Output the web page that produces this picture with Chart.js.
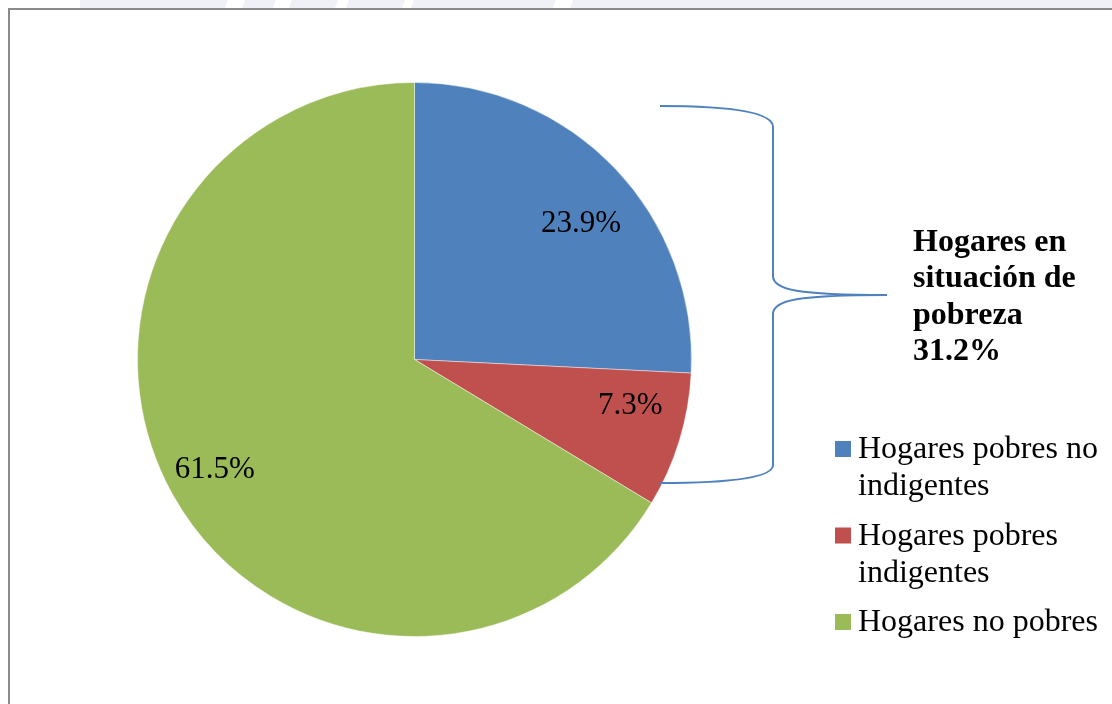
<!DOCTYPE html>
<html>
<head>
<meta charset="utf-8">
<script src="https://cdn.jsdelivr.net/npm/chart.js@4.4.1/dist/chart.umd.min.js"></script>
<style>
  html, body { margin: 0; padding: 0; background: #fff; }
  canvas { display: block; }
</style>
</head>
<body>
<canvas id="povertyChart" width="1112" height="704"></canvas>
<script>
// --- Datos ---
const categories = ['Hogares pobres no indigentes', 'Hogares pobres indigentes', 'Hogares no pobres'];
const shares = [23.9, 7.3, 61.5];
const sliceColors = ['#4f81bd', '#c0504d', '#9bbb59'];
const bracketTitle = 'Hogares en situación de pobreza';
const bracketSlices = [0, 1];

// ajuste fino de las etiquetas (grados, fracción del radio)
const labelAngleShift = [4, -5.5, 1];
const labelRadius = [0.78, 0.795, 0.82];

const serif = '"Liberation Serif", "Times New Roman", serif';

function wrapText(ctx, text, maxWidth) {
    const words = text.split(' ');
    const lines = [];
    let line = '';
    words.forEach(w => {
        const test = line ? line + ' ' + w : w;
        if (line && ctx.measureText(test).width > maxWidth) {
            lines.push(line);
            line = w;
        } else {
            line = test;
        }
    });
    if (line) lines.push(line);
    return lines;
}

// marco y franja superior
const framePlugin = {
    id: 'frame',
    beforeDraw(chart) {
        const c = chart.ctx;
        c.save();
        c.fillStyle = '#fff';
        c.fillRect(0, 0, chart.width, chart.height);
        c.fillStyle = '#eff1f6';
        c.fillRect(80, 0, chart.width - 80, 8);
        c.fillStyle = '#fff';
        [[225, 242], [273, 289], [335, 346], [402, 411], [553, 570]].forEach(p => {
            c.beginPath();
            c.moveTo(p[0] + 3, 0);
            c.lineTo(p[1] + 3, 0);
            c.lineTo(p[1], 8);
            c.lineTo(p[0], 8);
            c.fill();
        });
        c.strokeStyle = '#8a8a8a';
        c.lineWidth = 2;
        c.beginPath();
        c.moveTo(9, chart.height + 5);
        c.lineTo(9, 9);
        c.lineTo(chart.width + 5, 9);
        c.stroke();
        c.restore();
    }
};

// etiquetas de porcentaje
const sliceLabels = {
    id: 'sliceLabels',
    afterDatasetsDraw(chart) {
        const c = chart.ctx;
        const meta = chart.getDatasetMeta(0);
        c.save();
        c.font = '31px ' + serif;
        c.fillStyle = '#000';
        c.textAlign = 'center';
        c.textBaseline = 'middle';
        meta.data.forEach((arc, i) => {
            const p = arc.getProps(['x', 'y', 'startAngle', 'endAngle', 'outerRadius'], true);
            const mid = (p.startAngle + p.endAngle) / 2 + labelAngleShift[i] * Math.PI / 180;
            const r = p.outerRadius * labelRadius[i];
            c.fillText(shares[i].toFixed(1) + '%', p.x + Math.cos(mid) * r, p.y + Math.sin(mid) * r + 2);
        });
        c.restore();
    }
};

// llave, texto en negrita y leyenda
const sideNotes = {
    id: 'sideNotes',
    afterDraw(chart) {
        const c = chart.ctx;
        c.save();

        const L = 660, S = 773, T = 887, top = 106, mid = 295, bot = 483;
        c.strokeStyle = '#4f81bd';
        c.lineWidth = 2;
        c.beginPath();
        c.moveTo(L, top);
        c.bezierCurveTo(730, top, S, top + 6, S, top + 21);
        c.lineTo(S, mid - 19);
        c.bezierCurveTo(S, mid - 5, S + 25, mid, T, mid);
        c.moveTo(T, mid);
        c.bezierCurveTo(S + 25, mid, S, mid + 5, S, mid + 19);
        c.lineTo(S, bot - 18);
        c.bezierCurveTo(S, bot - 5, 730, bot, L, bot);
        c.stroke();

        const total = bracketSlices.reduce((s, i) => s + shares[i], 0);
        c.font = 'bold 32px ' + serif;
        c.fillStyle = '#000';
        c.textAlign = 'left';
        c.textBaseline = 'alphabetic';
        const boldLines = wrapText(c, bracketTitle + ' ' + total.toFixed(1) + '%', 190);
        boldLines.forEach((ln, k) => c.fillText(ln, 913, 251 + k * 36.3));

        c.font = '32px ' + serif;
        let base = 458;
        categories.forEach((name, i) => {
            c.fillStyle = sliceColors[i];
            c.fillRect(835, base - 17, 16, 16);
            c.fillStyle = '#000';
            const lines = wrapText(c, name, 250);
            lines.forEach((ln, k) => c.fillText(ln, 858, base + k * 37));
            base += lines.length * 37 + 12.5;
        });

        c.restore();
    }
};

new Chart(document.getElementById('povertyChart'), {
    type: 'pie',
    data: {
        labels: categories,
        datasets: [{
            data: shares,
            backgroundColor: sliceColors,
            borderColor: 'rgba(255,255,255,0.45)',
            borderWidth: 1,
        }]
    },
    options: {
        responsive: false,
        animation: false,
        layout: { padding: { left: 137, right: 420, top: 82, bottom: 67 } },
        plugins: {
            legend: { display: false },
            tooltip: { enabled: false }
        }
    },
    plugins: [framePlugin, sliceLabels, sideNotes]
});
</script>
</body>
</html>
